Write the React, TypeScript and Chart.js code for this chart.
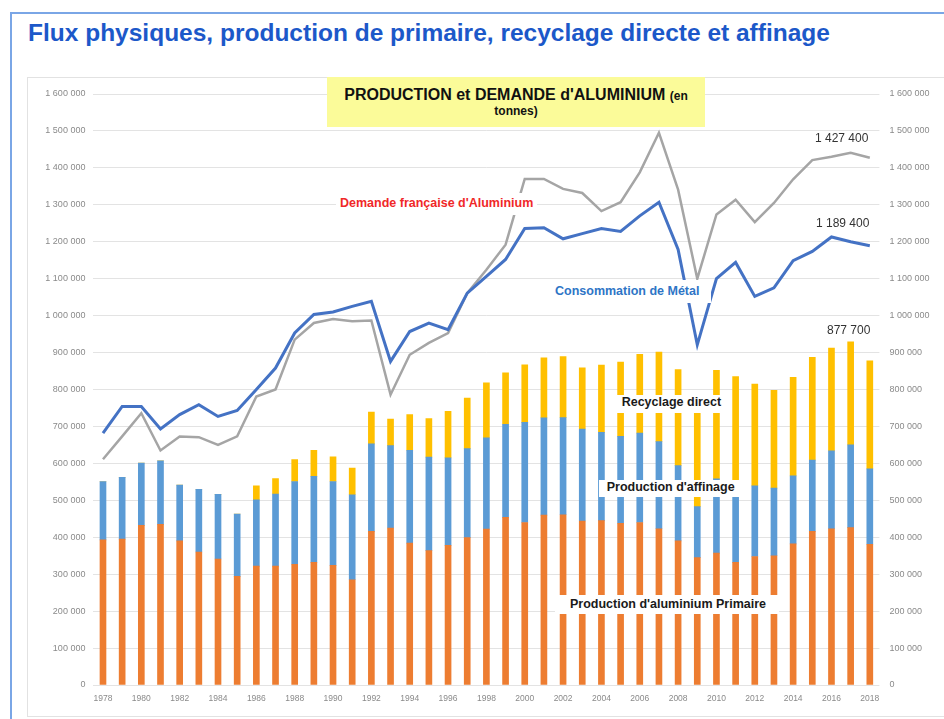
import React, { useEffect, useRef } from 'react';
import { Chart, registerables } from 'chart.js';
Chart.register(...registerables);

const years = ['1978','1979','1980','1981','1982','1983','1984','1985','1986','1987','1988','1989','1990','1991','1992','1993','1994','1995','1996','1997','1998','1999','2000','2001','2002','2003','2004','2005','2006','2007','2008','2009','2010','2011','2012','2013','2014','2015','2016','2017','2018'];

const primaire = [393000,395000,432000,435000,390000,360000,341000,294000,322000,322000,327000,332000,324000,285000,416000,425000,384000,364000,378000,399000,422000,454000,440000,460000,461000,444000,445000,438000,440000,423000,390000,345000,357000,332000,348000,350000,382000,416000,423000,426000,381000];

const affinage = [158000,167000,169000,172000,151000,170000,175000,169000,179000,195000,224000,233000,227000,230000,237000,223000,251000,253000,237000,241000,247000,252000,271000,263000,263000,249000,239000,235000,242000,236000,204000,138000,201000,216000,191000,183000,184000,193000,211000,224000,204000];

const recyclage = [0,0,0,0,0,0,0,0,38000,42000,59000,70000,67000,72000,86000,72000,97000,104000,126000,137000,149000,139000,156000,163000,165000,166000,182000,201000,213000,242000,260000,262000,294000,287000,276000,265000,267000,278000,278000,279000,292700];

const consommation = [682000,754000,754000,693000,732000,759000,727000,743000,800000,858000,953000,1003000,1010000,1025000,1039000,876000,957000,980000,962000,1061000,1106000,1152000,1236000,1238000,1208000,1222000,1236000,1228000,1270000,1307000,1179000,921000,1100000,1144000,1052000,1075000,1149000,1174000,1213000,1200000,1189400];

const demande = [611000,673000,736000,635000,673000,671000,650000,673000,781000,800000,935000,980000,991000,985000,987000,786000,894000,926000,953000,1061000,1124000,1192000,1370000,1370000,1343000,1332000,1283000,1307000,1388000,1495000,1341000,1100000,1274000,1314000,1253000,1305000,1369000,1421000,1430000,1441000,1427400];

const Y_MAX = 1600000;
const Y_STEP = 100000;

const fmt = (v: number) => String(Math.round(v)).replace(/\B(?=(\d{3})+(?!\d))/g, ' ');

const FONT = "'Liberation Sans', Arial, sans-serif";

function Lbl(props: { x: number; baseline: number; size: number; text: string; color: string; bold?: boolean; bg?: boolean; pad?: [number, number, number, number] }) {
  const { x, baseline, size, text, color, bold, bg, pad = [0, 0, 0, 0] } = props;
  const lh = size * 1.117;
  const top = baseline - 0.905 * size - pad[0];
  return (
    <div
      style={{
        position: 'absolute',
        left: x - pad[3],
        top,
        paddingTop: pad[0],
        paddingRight: pad[1],
        paddingBottom: pad[2],
        paddingLeft: pad[3],
        fontFamily: FONT,
        fontSize: size,
        lineHeight: lh + 'px',
        fontWeight: bold ? 700 : 400,
        color,
        background: bg ? '#ffffff' : 'transparent',
        whiteSpace: 'nowrap',
      }}
    >
      {text}
    </div>
  );
}

export default function App() {
  const ref = useRef<HTMLCanvasElement | null>(null);

  useEffect(() => {
    if (!ref.current) return;
    const tickColor = '#8a8a8a';
    const chart = new Chart(ref.current, {
      type: 'bar',
      data: {
        labels: years,
        datasets: [
          { type: 'line', label: 'Consommation de Métal', data: consommation, yAxisID: 'y2', borderColor: '#4472c4', borderWidth: 3, pointRadius: 0, tension: 0, fill: false, order: 0 } as any,
          { type: 'line', label: "Demande française d'Aluminium", data: demande, yAxisID: 'y2', borderColor: '#a5a5a5', borderWidth: 2.5, pointRadius: 0, tension: 0, fill: false, order: 1 } as any,
          { label: "Production d'aluminium Primaire", data: primaire, backgroundColor: '#ed7d31', yAxisID: 'y', barThickness: 6, order: 2 },
          { label: "Production d'affinage", data: affinage, backgroundColor: '#5b9bd5', yAxisID: 'y', barThickness: 6, order: 2 },
          { label: 'Recyclage direct', data: recyclage, backgroundColor: '#ffc000', yAxisID: 'y', barThickness: 6, order: 2 },
        ],
      },
      options: {
        responsive: true,
        maintainAspectRatio: false,
        animation: false,
        layout: { padding: { left: 28, top: 94, right: 4, bottom: 4 } },
        plugins: { legend: { display: false }, tooltip: { enabled: false } },
        scales: {
          x: {
            stacked: true,
            grid: { display: false, drawTicks: false },
            border: { display: false },
            ticks: {
              autoSkip: false,
              maxRotation: 0,
              padding: 9,
              color: tickColor,
              font: { family: FONT, size: 8.5 },
              callback: (_v: any, i: number) => (i % 2 === 0 ? years[i] : ''),
            },
            afterFit: (s: any) => { s.height = 30; },
          },
          y: {
            stacked: true,
            position: 'left',
            min: 0,
            max: Y_MAX,
            grid: { color: '#e3e3e3', lineWidth: 1, drawTicks: false },
            border: { display: false },
            ticks: { stepSize: Y_STEP, padding: 8, color: tickColor, font: { family: FONT, size: 9 }, callback: (v: any) => fmt(Number(v)) },
            afterFit: (s: any) => { s.width = 65.4; },
          },
          y2: {
            position: 'right',
            min: 0,
            max: Y_MAX,
            grid: { display: false, drawTicks: false },
            border: { display: false },
            ticks: { stepSize: Y_STEP, padding: 10, color: tickColor, font: { family: FONT, size: 9 }, callback: (v: any) => fmt(Number(v)) },
            afterFit: (s: any) => { s.width = 60.6; },
          },
        },
      } as any,
    });
    return () => chart.destroy();
  }, []);

  return (
    <div style={{ position: 'absolute', left: 0, top: 0, width: 944, height: 719, background: '#ffffff', overflow: 'hidden' }}>
      <div style={{ position: 'absolute', left: 10, top: 12, width: 960, height: 720, border: '2px solid #7aa6e6', boxSizing: 'border-box' }} />
      <div style={{ position: 'absolute', left: 28, top: 21, fontFamily: FONT, fontWeight: 700, fontSize: 24.5, lineHeight: '24.5px', color: '#1c58c9', whiteSpace: 'nowrap' }}>
        Flux physiques, production de primaire, recyclage directe et affinage
      </div>
      <div style={{ position: 'absolute', left: 27, top: 77, width: 940, height: 640, border: '1px solid #e2e2e2', boxSizing: 'border-box' }} />
      <div style={{ position: 'absolute', left: 0, top: 0, width: 944, height: 719 }}>
        <canvas ref={ref} />
      </div>
      <div style={{ position: 'absolute', left: 327, top: 77, width: 378, height: 50, background: '#fbfb99' }} />
      <div style={{ position: 'absolute', left: 327, top: 87.2, width: 378, textAlign: 'center', fontFamily: FONT, fontWeight: 700, fontSize: 16, lineHeight: '16px', color: '#111', whiteSpace: 'nowrap' }}>
        PRODUCTION et DEMANDE d'ALUMINIUM <span style={{ fontSize: 12 }}>(en</span>
      </div>
      <div style={{ position: 'absolute', left: 327, top: 105.3, width: 378, textAlign: 'center', fontFamily: FONT, fontWeight: 700, fontSize: 12, lineHeight: '12px', color: '#111' }}>
        tonnes)
      </div>
      <Lbl x={340} baseline={208} size={12.5} text="Demande française d'Aluminium" color="#f02828" bold bg pad={[4, 4, 4, 4]} />
      <Lbl x={555} baseline={296.5} size={12.5} text="Consommation de Métal" color="#2e75c6" bold bg pad={[5, 12, 4, 7]} />
      <Lbl x={621.7} baseline={407} size={12.5} text="Recyclage direct" color="#1a1a1a" bold bg pad={[1, 3, 3, 6]} />
      <Lbl x={606.7} baseline={492} size={12.5} text="Production d'affinage" color="#1a1a1a" bold bg pad={[1, 5, 2, 8]} />
      <Lbl x={570} baseline={609} size={12.5} text="Production d'aluminium Primaire" color="#1a1a1a" bold bg pad={[3, 13, 2, 15]} />
      <Lbl x={815} baseline={142.5} size={12} text={fmt(demande[demande.length - 1])} color="#333333" />
      <Lbl x={816} baseline={228} size={12} text={fmt(consommation[consommation.length - 1])} color="#333333" />
      <Lbl x={827} baseline={335} size={12} text={fmt(primaire[primaire.length - 1] + affinage[affinage.length - 1] + recyclage[recyclage.length - 1])} color="#333333" />
    </div>
  );
}
